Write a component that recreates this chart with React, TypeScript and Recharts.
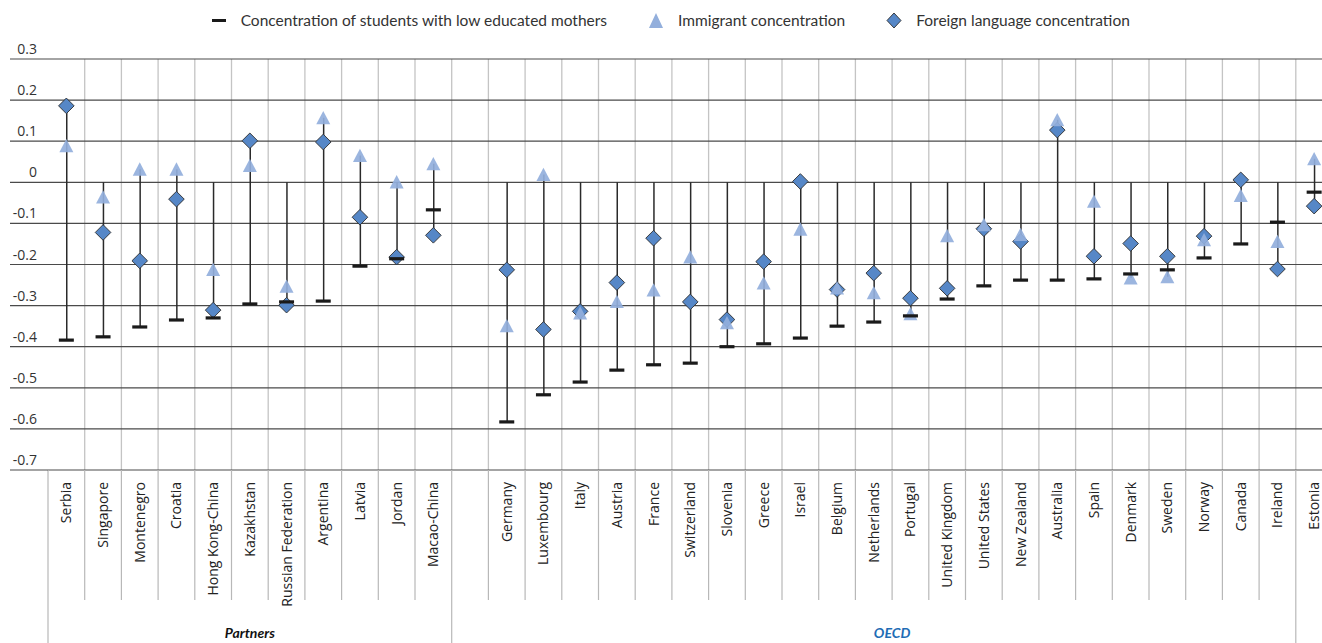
import React from 'react';
import {
    ComposedChart,
    Bar,
    Scatter,
    XAxis,
    YAxis,
    CartesianGrid,
    Legend
} from 'recharts';

// Countries in display order; the empty entry is the gap between Partners and OECD
const countries = [
    'Serbia', 'Singapore', 'Montenegro', 'Croatia', 'Hong Kong-China', 'Kazakhstan',
    'Russian Federation', 'Argentina', 'Latvia', 'Jordan', 'Macao-China', '',
    'Germany', 'Luxembourg', 'Italy', 'Austria', 'France', 'Switzerland', 'Slovenia',
    'Greece', 'Israel', 'Belgium', 'Netherlands', 'Portugal', 'United Kingdom',
    'United States', 'New Zealand', 'Australia', 'Spain', 'Denmark', 'Sweden',
    'Norway', 'Canada', 'Ireland', 'Estonia'
];

const lowEducatedMothers = [
    -0.384, -0.376, -0.352, -0.335, -0.330, -0.296, -0.291, -0.289, -0.204, -0.186, -0.067, null,
    -0.583, -0.517, -0.486, -0.457, -0.444, -0.440, -0.400, -0.393, -0.379, -0.350, -0.340,
    -0.325, -0.284, -0.252, -0.238, -0.238, -0.235, -0.223, -0.213, -0.184, -0.150, -0.097, -0.024
];

const immigrantConc = [
    0.089, -0.036, 0.032, 0.032, -0.212, 0.041, -0.253, 0.157, 0.065, 0.001, 0.045, null,
    -0.349, 0.019, -0.318, -0.290, -0.262, -0.182, -0.342, -0.245, -0.114, -0.257, -0.269,
    -0.320, -0.130, -0.103, -0.127, 0.152, -0.046, -0.233, -0.230, -0.140, -0.032, -0.144, 0.057
];

const foreignLangConc = [
    0.186, -0.122, -0.191, -0.041, -0.311, 0.101, -0.299, 0.098, -0.085, -0.182, -0.129, null,
    -0.213, -0.358, -0.314, -0.244, -0.136, -0.291, -0.334, -0.193, 0.002, -0.261, -0.221,
    -0.282, -0.258, -0.113, -0.144, 0.127, -0.180, -0.149, -0.180, -0.131, 0.006, -0.211, -0.058
];

const yTicks = [0.3, 0.2, 0.1, 0, -0.1, -0.2, -0.3, -0.4, -0.5, -0.6, -0.7];

const groups = [
    { label: 'Partners', first: 0, last: 10, color: '#111111' },
    { label: 'OECD', first: 12, last: 33, color: '#1f6db5' }
];

const CHART_W = 1330;
const CHART_H = 635;
const YAXIS_W = 40;
const XAXIS_H = 173;
const LEGEND_H = 49;
const MARGIN = { top: 2, right: 5.5, bottom: 0, left: 0 };
const PLOT_BOTTOM = CHART_H - XAXIS_H;
const BAND = (CHART_W - YAXIS_W - MARGIN.right) / countries.length;
const FONT = 'Lato, "Open Sans", sans-serif';
const AXIS_FONT = '"Open Sans", Lato, sans-serif';

const data = countries.map((name, i) => {
    const m = lowEducatedMothers[i];
    const im = immigrantConc[i];
    const fl = foreignLangConc[i];
    const vals = [0, m, im, fl].filter((v) => v != null) as number[];
    return {
        name,
        mothers: m,
        immigrant: im,
        foreign: fl,
        range: m == null ? null : [Math.min(...vals), Math.max(...vals)]
    };
});

const DashShape = (props: any) => {
    const { cx, cy, payload } = props;
    if (payload.mothers == null || cy == null) return <g />;
    return <rect x={cx - 7.5} y={cy - 1.6} width={15} height={3.2} fill="#1a1a1a" />;
};

const TriangleShape = (props: any) => {
    const { cx, cy, payload } = props;
    if (payload.immigrant == null || cy == null) return <g />;
    return (
        <polygon
            points={`${cx},${cy - 6.8} ${cx + 7},${cy + 6.5} ${cx - 7},${cy + 6.5}`}
            fill="#93afdc"
            fillOpacity={0.92}
        />
    );
};

const DiamondShape = (props: any) => {
    const { cx, cy, payload } = props;
    if (payload.foreign == null || cy == null) return <g />;
    return (
        <polygon
            points={`${cx},${cy - 7.8} ${cx + 7.8},${cy} ${cx},${cy + 7.8} ${cx - 7.8},${cy}`}
            fill="#5687c7"
            stroke="#2e2e2e"
            strokeWidth={0.9}
        />
    );
};

const formatTick = (v: number) => {
    const s = Number(v.toFixed(1)).toString();
    return s === '-0' ? '0' : s;
};

const ValueTick = (props: any) => {
    const { y, payload } = props;
    return (
        <g>
            <line x1={2} x2={YAXIS_W} y1={y} y2={y} stroke="#4a4a4a" strokeWidth={1.2} />
            <text x={29} y={y - 5} textAnchor="end" fontSize={14} fill="#333" fontFamily={AXIS_FONT}>
                {formatTick(payload.value)}
            </text>
        </g>
    );
};

const CategoryTick = (props: any) => {
    const { x, payload } = props;
    const i = payload.index ?? props.index;
    const right = x + BAND / 2;
    const left = x - BAND / 2;
    const longRight = groups.some((g) => g.last === i);
    const group = groups.find((g) => g.first === i);
    return (
        <g>
            {i === 0 && (
                <line x1={left} x2={left} y1={PLOT_BOTTOM} y2={CHART_H} stroke="#b8b8b8" strokeWidth={1.2} />
            )}
            <line
                x1={right}
                x2={right}
                y1={PLOT_BOTTOM}
                y2={longRight ? CHART_H : PLOT_BOTTOM + 130}
                stroke="#b8b8b8"
                strokeWidth={1.2}
            />
            <text
                transform={`translate(${x + 5},${PLOT_BOTTOM + 12}) rotate(-90)`}
                textAnchor="end"
                fontSize={14}
                fill="#222"
                fontFamily={AXIS_FONT}
            >
                {payload.value}
            </text>
            {group && (
                <text
                    x={left + ((group.last - group.first + 1) * BAND) / 2}
                    y={CHART_H - 5}
                    textAnchor="middle"
                    fontSize={14}
                    fontWeight="bold"
                    fontStyle="italic"
                    fill={group.color}
                    fontFamily={FONT}
                >
                    {group.label}
                </text>
            )}
        </g>
    );
};

const legendItems = [
    { label: 'Concentration of students with low educated mothers', icon: 'dash' },
    { label: 'Immigrant concentration', icon: 'triangle' },
    { label: 'Foreign language concentration', icon: 'diamond' }
];

const LegendIcon = ({ kind }: { kind: string }) => (
    <svg width={16} height={17} style={{ marginRight: 14 }}>
        {kind === 'dash' && <rect x={1} y={7} width={14} height={3} fill="#1a1a1a" />}
        {kind === 'triangle' && <polygon points="8,1 15,16 1,16" fill="#93afdc" />}
        {kind === 'diamond' && (
            <polygon points="8,1 15,8.5 8,16 1,8.5" fill="#5687c7" stroke="#2e2e2e" strokeWidth={0.9} />
        )}
    </svg>
);

const renderLegend = () => (
    <div
        style={{
            height: LEGEND_H,
            display: 'flex',
            justifyContent: 'center',
            alignItems: 'flex-start',
            paddingTop: 1,
            boxSizing: 'border-box',
            fontFamily: FONT,
            fontSize: 15.5,
            color: '#333'
        }}
    >
        {legendItems.map((item, idx) => (
            <div
                key={item.label}
                style={{ display: 'flex', alignItems: 'center', marginLeft: idx === 0 ? 0 : 41 }}
            >
                <LegendIcon kind={item.icon} />
                <span>{item.label}</span>
            </div>
        ))}
    </div>
);

const App = () => {
    return (
        <div style={{ position: 'absolute', left: 8, top: 8, width: 1314, height: CHART_H, overflow: 'hidden' }}>
            <ComposedChart width={CHART_W} height={CHART_H} data={data} margin={MARGIN}>
                <Legend verticalAlign="top" content={renderLegend} />
                <CartesianGrid
                    horizontal={false}
                    stroke="#c4c4c4"
                    strokeWidth={1.3}
                    verticalCoordinatesGenerator={({ offset }: any) =>
                        countries.map((_, i) => offset.left + (i + 1) * BAND)
                    }
                />
                <CartesianGrid vertical={false} stroke="#4a4a4a" strokeWidth={1.2} />
                <XAxis
                    dataKey="name"
                    type="category"
                    interval={0}
                    height={XAXIS_H}
                    axisLine={false}
                    tickLine={false}
                    tick={<CategoryTick />}
                />
                <YAxis
                    type="number"
                    domain={[-0.7, 0.3]}
                    ticks={yTicks}
                    width={YAXIS_W}
                    axisLine={false}
                    tickLine={false}
                    tick={<ValueTick />}
                    allowDataOverflow
                />
                <Bar dataKey="range" barSize={1.5} fill="#2a2a2a" isAnimationActive={false} />
                <Scatter dataKey="foreign" shape={<DiamondShape />} isAnimationActive={false} />
                <Scatter dataKey="immigrant" shape={<TriangleShape />} isAnimationActive={false} />
                <Scatter dataKey="mothers" shape={<DashShape />} isAnimationActive={false} />
            </ComposedChart>
        </div>
    );
};

export default App;
